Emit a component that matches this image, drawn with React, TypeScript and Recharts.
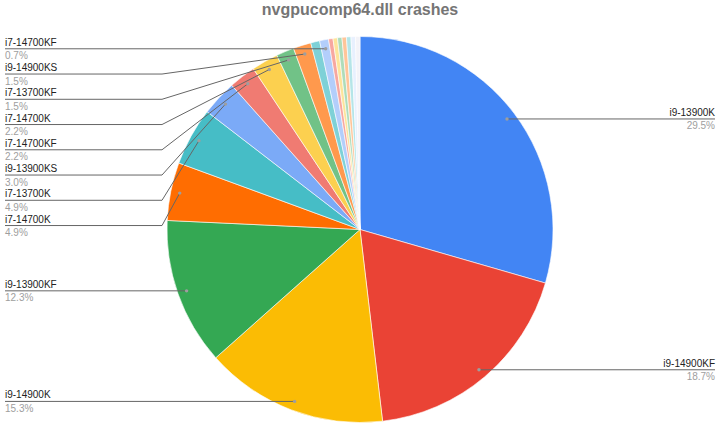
import React from 'react';
import { PieChart, Pie, Cell } from 'recharts';

// ---- data ----
const categories = [
  'i9-13900K',
  'i9-14900KF',
  'i9-14900K',
  'i9-13900KF',
  'i7-14700K',
  'i7-13700K',
  'i9-13900KS',
  'i7-14700KF',
  'i7-14700K',
  'i7-13700KF',
  'i9-14900KS',
  'other-1',
  'i7-14700KF',
  'other-2',
  'other-3',
  'other-4',
  'other-5',
  'other-6',
  'other-7',
  'other-8',
];
const crashCounts = [79, 50, 41, 33, 13, 13, 8, 6, 6, 4, 4, 2, 2, 1, 1, 1, 1, 1, 1, 1];
const unlabeledIndices = [11, 13, 14, 15, 16, 17, 18, 19];
const sliceColors = [
  '#4285F4', '#EA4335', '#FBBC04', '#34A853', '#FF6D01', '#46BDC6', '#7BAAF7', '#F07B72',
  '#FCD04F', '#71C287', '#FF994D', '#7ED1D7', '#B3CEFB', '#F7A7A0', '#FDE49B', '#AEDCBA',
  '#FFC599', '#B5E5E8', '#E8F0FE', '#F3F3F8',
];
const chartTitle = 'nvgpucomp64.dll crashes';

const data = categories.map((name, i) => ({ name, value: crashCounts[i] }));

// ---- layout ----
const W = 720;
const H = 427;
const CX = 360;
const CY = 229.5;
const R = 193;
const DOT_FRAC = 0.953;
const LEFT_X = 5;
const RIGHT_X = 715;
const LEFT_ELBOW = 162;
const RIGHT_ELBOW = W - 162;
const LABEL_GAP = 25.25;
const RAD = Math.PI / 180;

// compute vertical push-down offsets for stacked left-side labels
const labelOffsets: Record<number, number> = (() => {
  const total = crashCounts.reduce((a, b) => a + b, 0);
  let cum = 0;
  const pts: { i: number; x: number; y: number }[] = [];
  crashCounts.forEach((v, i) => {
    const th = ((cum + v / 2) / total) * 2 * Math.PI;
    cum += v;
    pts.push({ i, x: CX + R * DOT_FRAC * Math.sin(th), y: CY - R * DOT_FRAC * Math.cos(th) });
  });
  const res: Record<number, number> = {};
  const left = pts
    .filter((p) => p.x < CX && !unlabeledIndices.includes(p.i))
    .sort((a, b) => a.y - b.y);
  let prev = -Infinity;
  left.forEach((p) => {
    const y = Math.max(p.y, prev + LABEL_GAP);
    res[p.i] = y - p.y;
    prev = y;
  });
  return res;
})();

const renderLabel = (props: any) => {
  const { cx, cy, midAngle, outerRadius, index, percent } = props;
  if (unlabeledIndices.includes(index)) return null;
  const name = props.name ?? props.payload?.name;
  const r = outerRadius * DOT_FRAC;
  const dx = cx + r * Math.cos(-midAngle * RAD);
  const dy = cy + r * Math.sin(-midAngle * RAD);
  const isLeft = dx < cx;
  const lineY = dy + (isLeft ? labelOffsets[index] ?? 0 : 0);
  const x0 = isLeft ? LEFT_X : RIGHT_X;
  const elbow = isLeft ? LEFT_ELBOW : RIGHT_ELBOW;
  const anchor = isLeft ? 'start' : 'end';
  return (
    <g key={`lbl-${index}`}>
      <path
        d={`M${x0},${lineY} L${elbow},${lineY} L${dx},${dy}`}
        stroke="#666666"
        strokeWidth={1}
        fill="none"
      />
      <circle cx={dx} cy={dy} r={1.7} fill="#9e9e9e" />
      <text
        x={x0}
        y={lineY - 3}
        textAnchor={anchor}
        fontSize={10}
        fontFamily="Arial, 'Liberation Sans', sans-serif"
        fill="#222222"
      >
        {name}
      </text>
      <text
        x={x0}
        y={lineY + 10.5}
        textAnchor={anchor}
        fontSize={10}
        fontFamily="Arial, 'Liberation Sans', sans-serif"
        fill="#9e9e9e"
      >
        {`${(percent * 100).toFixed(1)}%`}
      </text>
    </g>
  );
};

export default function App() {
  return (
    <div
      style={{
        position: 'absolute',
        left: 0,
        top: 0,
        width: W,
        height: H,
        background: '#ffffff',
        overflow: 'hidden',
      }}
    >
      <div
        style={{
          position: 'absolute',
          left: 0,
          top: 1,
          width: W,
          textAlign: 'center',
          fontFamily: "Arial, 'Liberation Sans', sans-serif",
          fontWeight: 'bold',
          fontSize: 16,
          lineHeight: '18px',
          color: '#757575',
        }}
      >
        {chartTitle}
      </div>
      <PieChart width={W} height={H} margin={{ top: 0, right: 0, bottom: 0, left: 0 }}>
        <Pie
          data={data}
          dataKey="value"
          nameKey="name"
          cx={CX}
          cy={CY}
          outerRadius={R}
          startAngle={90}
          endAngle={-270}
          stroke="#ffffff"
          strokeWidth={0.6}
          label={renderLabel}
          labelLine={false}
          isAnimationActive={false}
        >
          {data.map((d, i) => (
            <Cell key={`c-${i}`} fill={sliceColors[i]} />
          ))}
        </Pie>
      </PieChart>
    </div>
  );
}
